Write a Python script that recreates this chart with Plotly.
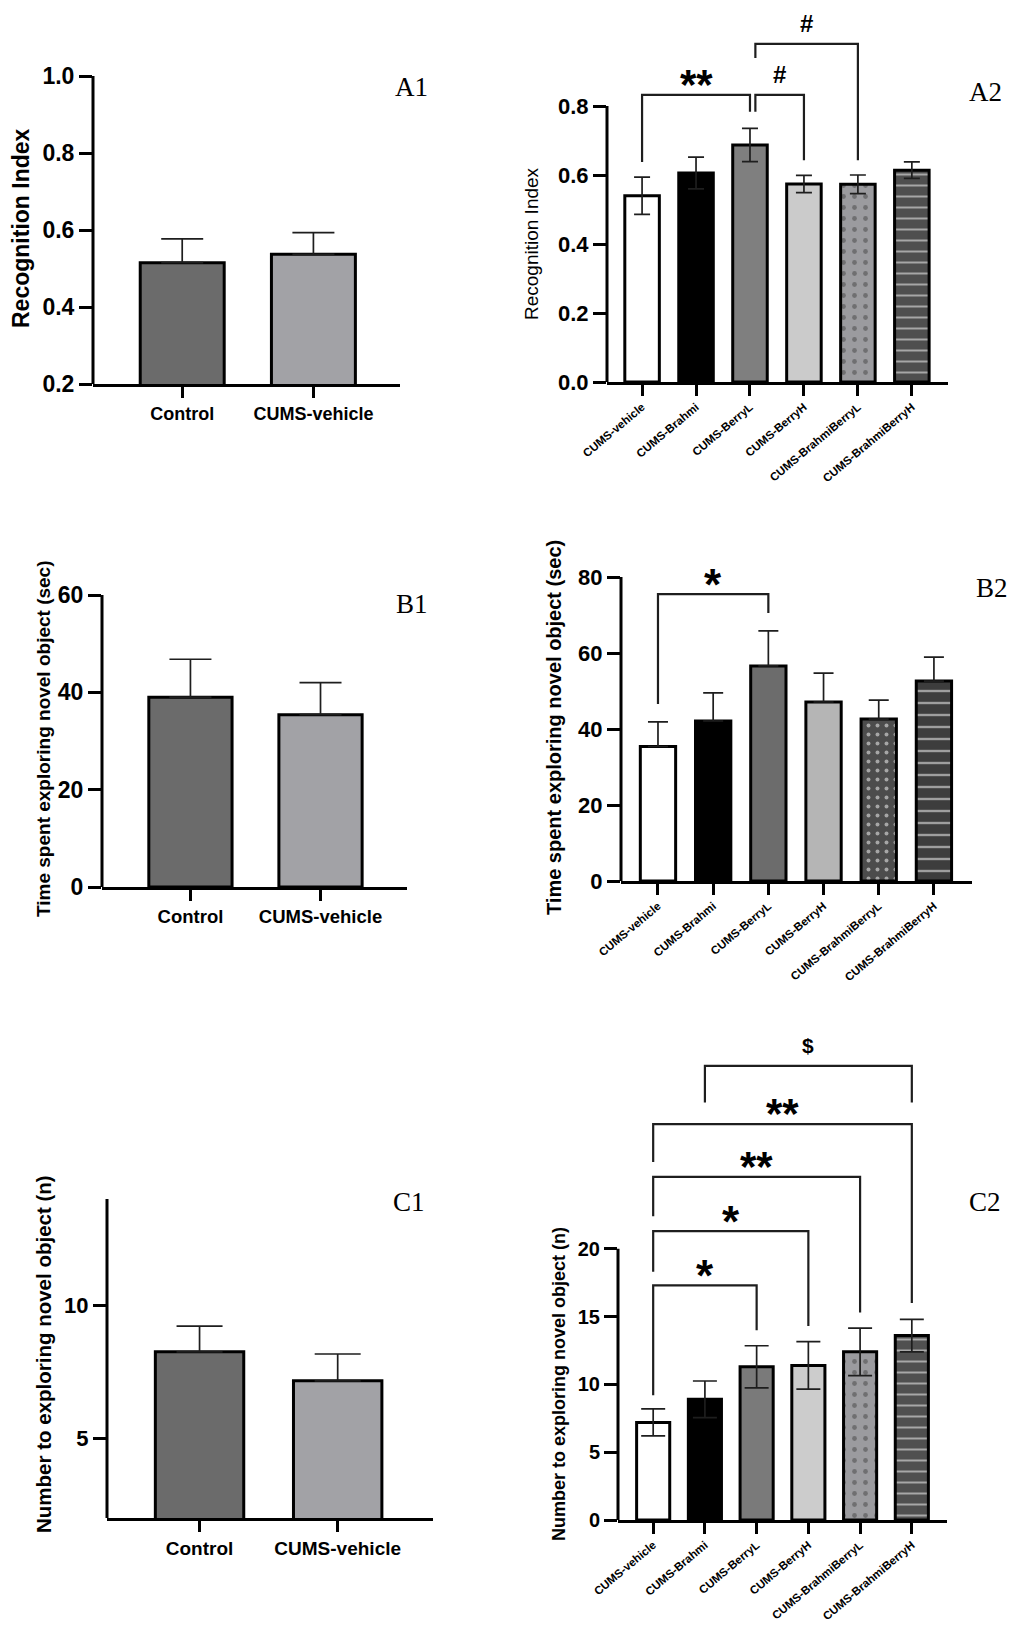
import plotly.graph_objects as go

# Gruppen
groups_two = ["Control", "CUMS-vehicle"]
groups_six = ["CUMS-vehicle", "CUMS-Brahmi", "CUMS-BerryL", "CUMS-BerryH",
              "CUMS-BrahmiBerryL", "CUMS-BrahmiBerryH"]

# Mittelwerte und SEM
a1_mean = [0.515, 0.537]
a1_sem = [0.062, 0.056]
a2_mean = [0.540, 0.606, 0.687, 0.574, 0.573, 0.614]
a2_sem = [0.054, 0.046, 0.048, 0.025, 0.027, 0.024]
b1_mean = [39.0, 35.4]
b1_sem = [7.8, 6.6]
b2_mean = [35.4, 42.1, 56.6, 47.1, 42.6, 52.6]
b2_sem = [6.5, 7.4, 9.2, 7.6, 5.0, 6.3]
c1_mean = [8.25, 7.16]
c1_sem = [0.97, 1.01]
c2_mean = [7.2, 8.9, 11.3, 11.4, 12.4, 13.6]
c2_sem = [1.0, 1.35, 1.55, 1.75, 1.75, 1.2]

# Signifikanz-Klammern: (von, bis, Hoehe, Ende links, Ende rechts, Text)
a2_sig = [(0, 2, 0.832, 0.638, 0.783, "**"),
          (2.1, 3, 0.832, 0.783, 0.643, "#"),
          (2.1, 4, 0.980, 0.939, 0.643, "#")]
b2_sig = [(0, 2, 75.5, 46.6, 70.5, "*")]
c2_sig = [(0, 2, 17.3, 9.2, 14.0, "*"),
          (0, 3, 21.3, 18.3, 14.3, "*"),
          (0, 4, 25.3, 22.4, 15.3, "**"),
          (0, 5, 29.2, 26.4, 16.0, "**"),
          (1, 5, 33.5, 30.8, 30.8, "$")]

W, H = 1025, 1635
SANS = "Liberation Sans, Arial, sans-serif"
SERIF = "Liberation Serif, Times New Roman, serif"

two_colors = ["#6b6b6b", "#a2a2a6"]
a2_colors = ["#ffffff", "#000000", "#7f7f7f", "#cbcbcb", "#9b9b9f", "#4f4f4f"]
b2_colors = ["#ffffff", "#000000", "#6c6c6c", "#b5b5b5", "#4c4c4c", "#3d3d3d"]
c2_colors = ["#ffffff", "#000000", "#7a7a7a", "#cccccc", "#9b9b9f", "#505050"]

# Textgroesse und Verschiebung der Signifikanz-Zeichen
sig_style = {"*": (44, -17), "**": (42, -15), "#": (24, 5), "$": (21, 7)}

fig = go.Figure()
shapes = []
annos = []


def add_panel(idx, groups, mean, sem, colors, box, yrange, yticks, ytext, axis_top,
              xrange, both, cap, angle, xsize, ysize, pattern=None, sig=None):
    xid = "x" if idx == 1 else f"x{idx}"
    yid = "y" if idx == 1 else f"y{idx}"
    left, right, top, bottom = box
    n = len(groups)
    marker = dict(color=colors, line=dict(color="black", width=3))
    if pattern:
        marker["pattern"] = pattern
    err = dict(type="data", array=sem, color="#1e1e1e", thickness=1.7, width=cap)
    if not both:
        err.update(symmetric=False, arrayminus=[0] * n)
    fig.add_trace(go.Bar(x=list(range(n)), y=mean, width=0.64, marker=marker,
                         error_y=err, xaxis=xid, yaxis=yid, showlegend=False))
    fig.layout[f"xaxis{'' if idx == 1 else idx}"] = dict(
        domain=[left / W, right / W], range=xrange, anchor=yid, automargin=False,
        tickvals=list(range(n)), ticktext=groups, tickangle=angle,
        ticks="outside", ticklen=11, tickwidth=3, tickcolor="black",
        showline=True, linewidth=3, linecolor="black",
        showgrid=False, zeroline=False,
        tickfont=dict(family=SANS, size=xsize, color="black", weight="bold"))
    fig.layout[f"yaxis{'' if idx == 1 else idx}"] = dict(
        domain=[1 - bottom / H, 1 - top / H], range=yrange, anchor=xid, automargin=False,
        tickvals=yticks, ticktext=ytext,
        ticks="outside", ticklen=13, tickwidth=3, tickcolor="black",
        showline=False, showgrid=False, zeroline=False,
        tickfont=dict(family=SANS, size=ysize, color="black", weight="bold"))
    # y-Achsenlinie nur bis zum obersten Tick
    shapes.append(dict(type="line", xref=f"{xid} domain", yref=yid, x0=0, x1=0,
                       y0=yrange[0], y1=axis_top, line=dict(color="black", width=3)))
    for a, b, h, hl, hr, txt in (sig or []):
        shapes.append(dict(type="path", xref=xid, yref=yid,
                           path=f"M {a},{hl} L {a},{h} L {b},{h} L {b},{hr}",
                           line=dict(color="#1e1e1e", width=2.2)))
        size, shift = sig_style[txt]
        annos.append(dict(x=(a + b) / 2, y=h, xref=xid, yref=yid, text=txt,
                          showarrow=False, yanchor="bottom", yshift=shift,
                          font=dict(family=SANS, size=size, color="black", weight="bold")))


fmt1 = lambda vals: [f"{v:.1f}" for v in vals]
# Muster: Punkte (BrahmiBerryL) und Querstreifen (BrahmiBerryH)
pat_grey = dict(shape=["", "", "", "", ".", "-"], fillmode="overlay",
                fgcolor=["black", "black", "black", "black", "black", "white"],
                size=[8, 8, 8, 8, 11, 11], solidity=[0.2, 0.2, 0.2, 0.2, 0.15, 0.18])
pat_dark = dict(shape=["", "", "", "", ".", "-"], fillmode="overlay",
                fgcolor=["white"] * 6,
                size=[8, 8, 8, 8, 9, 12], solidity=[0.2, 0.2, 0.2, 0.2, 0.15, 0.2])

add_panel(1, groups_two, a1_mean, a1_sem, two_colors, (93, 400, 76, 384),
          [0.2, 1.0], [0.2, 0.4, 0.6, 0.8, 1.0], fmt1([0.2, 0.4, 0.6, 0.8, 1.0]), 1.0,
          [-0.68, 1.66], False, 21, 0, 18, 23)

add_panel(2, groups_six, a2_mean, a2_sem, a2_colors, (607, 948, 37, 382),
          [0, 1.0], [0, 0.2, 0.4, 0.6, 0.8], fmt1([0, 0.2, 0.4, 0.6, 0.8]), 0.8,
          [-0.65, 5.67], True, 8, -40, 11.5, 22,
          pattern=pat_grey, sig=a2_sig)

add_panel(3, groups_two, b1_mean, b1_sem, two_colors, (102, 407, 595, 887),
          [0, 60], [0, 20, 40, 60], ["0", "20", "40", "60"], 60,
          [-0.68, 1.665], False, 21, 0, 18.5, 23)

add_panel(4, groups_six, b2_mean, b2_sem, b2_colors, (621, 972, 577, 881),
          [0, 80], [0, 20, 40, 60, 80], ["0", "20", "40", "60", "80"], 80,
          [-0.67, 5.69], False, 10, -40, 11.5, 22,
          pattern=pat_dark, sig=b2_sig)

add_panel(5, groups_two, c1_mean, c1_sem, two_colors, (107, 433, 1199, 1518),
          [2, 14], [5, 10], ["5", "10"], 14,
          [-0.67, 1.69], False, 23, 0, 19, 22)

add_panel(6, groups_six, c2_mean, c2_sem, c2_colors, (618, 947, 1059, 1520),
          [0, 34], [0, 5, 10, 15, 20], ["0", "5", "10", "15", "20"], 20,
          [-0.68, 5.68], True, 12, -40, 11.5, 20,
          pattern=pat_grey, sig=c2_sig)

# Achsentitel
y_titles = [
    ("Recognition Index", 21, 228, 23, "bold"),
    ("Recognition Index", 532, 244, 19, "normal"),
    ("Time spent exploring novel object (sec)", 43, 739, 19, "bold"),
    ("Time spent exploring novel object (sec)", 554, 728, 20, "bold"),
    ("Number to exploring novel object (n)", 43, 1354, 20.5, "bold"),
    ("Number to exploring novel object (n)", 559, 1384, 18, "bold"),
]
for txt, px, py, size, weight in y_titles:
    annos.append(dict(text=txt, x=px / W, y=1 - py / H, xref="paper", yref="paper",
                      textangle=-90, showarrow=False, xanchor="center", yanchor="middle",
                      font=dict(family=SANS, size=size, color="black", weight=weight)))

# Panel-Bezeichnungen
panel_labels = [("A1", 411, 87), ("A2", 985, 92), ("B1", 412, 604),
                ("B2", 992, 588), ("C1", 409, 1202), ("C2", 985, 1202)]
for txt, px, py in panel_labels:
    annos.append(dict(text=txt, x=px / W, y=1 - py / H, xref="paper", yref="paper",
                      showarrow=False, xanchor="center", yanchor="middle",
                      font=dict(family=SERIF, size=27, color="black")))

fig.update_layout(template="none", width=W, height=H,
                  margin=dict(l=0, r=0, t=0, b=0, pad=0),
                  paper_bgcolor="white", plot_bgcolor="white",
                  shapes=shapes, annotations=annos)

fig.write_html("out.html", config={"displayModeBar": False},
               post_script="document.body.style.margin='0';")
